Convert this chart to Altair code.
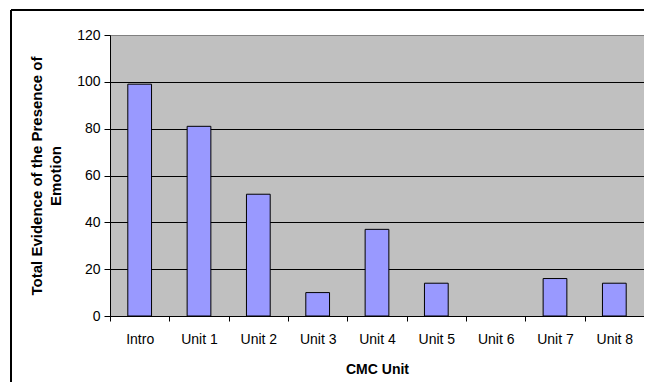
import altair as alt
import pandas as pd

categories = ["Intro", "Unit 1", "Unit 2", "Unit 3", "Unit 4", "Unit 5", "Unit 6", "Unit 7", "Unit 8"]
values = [99, 81, 52, 10, 37, 14, 0, 16, 14]
y_ticks = [0, 20, 40, 60, 80, 100, 120]

df = pd.DataFrame({"unit": categories, "value": values})
FONT = "Liberation Sans"

x_enc = alt.X(
    "unit:N",
    sort=categories,
    scale=alt.Scale(domain=categories, paddingInner=0, paddingOuter=0),
    axis=alt.Axis(
        title="CMC Unit",
        labelAngle=0,
        tickBand="extent",
        tickSize=5,
        tickColor="black",
        domainColor="black",
        labelFontSize=14,
        labelPadding=11,
        labelColor="black",
        titleFontSize=14,
        titleFontWeight="bold",
        titlePadding=16,
        titleColor="black",
        grid=False,
    ),
)

y_enc = alt.Y(
    "value:Q",
    scale=alt.Scale(domain=[0, 120], nice=False),
    axis=alt.Axis(
        title=["Total Evidence of the Presence of", "Emotion"],
        values=y_ticks,
        tickSize=6,
        tickColor="black",
        domainColor="black",
        labelFontSize=14,
        labelPadding=4,
        labelColor="black",
        titleFontSize=15,
        titleFontWeight="bold",
        titleLineHeight=19,
        titlePadding=13,
        titleColor="black",
        grid=True,
        gridColor=alt.condition("datum.value == 120", alt.value("#808080"), alt.value("black")),
        gridWidth=1,
        gridOpacity=1,
    ),
)

bars = alt.Chart(df).transform_filter("datum.value > 0").mark_bar(
    width=alt.RelativeBandSize(0.4),
    color="#9999FF",
    stroke="black",
    strokeWidth=1,
).encode(x=x_enc, y=y_enc)

one = pd.DataFrame({"a": [0]})
frame_top = alt.Chart(one).mark_rule(color="black", strokeWidth=2).encode(
    x=alt.value(-99), x2=alt.value(560), y=alt.value(-25)
)
frame_left = alt.Chart(one).mark_rule(color="black", strokeWidth=2).encode(
    x=alt.value(-99), y=alt.value(-25), y2=alt.value(400)
)

chart = alt.layer(bars, frame_top, frame_left).properties(
    width=534,
    height=281,
    autosize="none",
    padding={"left": 102, "top": 27, "right": 0, "bottom": 66},
).configure(
    font=FONT,
).configure_view(
    fill="#C0C0C0", stroke="#808080", strokeWidth=1
).configure_axis(
    labelFont=FONT, titleFont=FONT
)

chart.save("out.html", embed_options={"renderer": "svg", "actions": False})
